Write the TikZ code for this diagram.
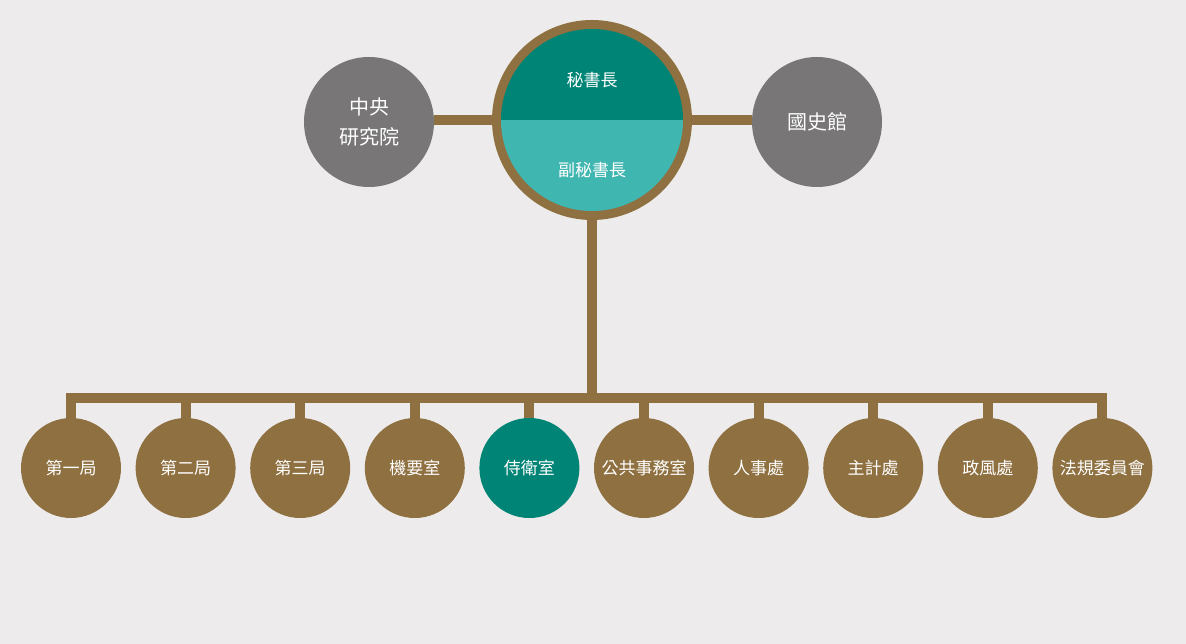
\documentclass[tikz,border=0pt]{standalone}
\usepackage{fontspec}
\setmainfont{Noto Sans CJK TC}
\usepackage{tikz}

\definecolor{bgcol}{RGB}{237,235,235}
\definecolor{bronze}{RGB}{143,112,64}
\definecolor{tealdark}{RGB}{0,132,118}
\definecolor{teallight}{RGB}{64,182,176}
\definecolor{stone}{RGB}{120,118,119}

\begin{document}
\begin{tikzpicture}[x=1pt,y=-1pt,
    link/.style={bronze, line width=10pt},
    side/.style={circle, fill=stone, minimum size=130pt, inner sep=0pt, text=white, align=center, font=\fontsize{20}{30}\selectfont},
    unit/.style={circle, fill=bronze, minimum size=100pt, inner sep=0pt, text=white, font=\fontsize{17}{20}\selectfont},
    title/.style={text=white, inner sep=0pt, font=\fontsize{17}{20}\selectfont}]

        % Background
        \fill[bgcol] (0,0) rectangle (1186,644);
        \useasboundingbox (0,0) rectangle (1186,644);

        % Central office with the bronze ring
        \node[circle, fill=bronze, minimum size=200pt, inner sep=0pt] (office) at (592,120) {};
        \begin{scope}
            \clip (592,120) circle (91pt);
            \fill[tealdark] (492,20) rectangle (692,120);
            \fill[teallight] (492,120) rectangle (692,220);
        \end{scope}
        \node[title] (secgen) at (592,80) {秘書長};
        \node[title] (deputy) at (592,170) {副秘書長};

        % Side bodies
        \node[side] (academia) at (369,122) {中央\\研究院};
        \node[side] (history) at (817,122) {國史館};

        % Units below
        \node[unit] (u1) at (71,468) {第一局};
        \node[unit] (u2) at (185.6,468) {第二局};
        \node[unit] (u3) at (300.2,468) {第三局};
        \node[unit] (u4) at (414.8,468) {機要室};
        \node[unit, fill=tealdark] (u5) at (529.4,468) {侍衛室};
        \node[unit] (u6) at (644,468) {公共事務室};
        \node[unit] (u7) at (758.6,468) {人事處};
        \node[unit] (u8) at (873.2,468) {主計處};
        \node[unit] (u9) at (987.8,468) {政風處};
        \node[unit] (u10) at (1102.4,468) {法規委員會};

        % Connectors
        \coordinate (hub) at (592,398);
        \draw[link] (academia.east |- office) -- (office.west);
        \draw[link] (office.east) -- (history.west |- office);
        \draw[link] (office.south) -- ([yshift=5pt]hub);
        \draw[link] ([xshift=-5pt]u1 |- hub) -- ([xshift=5pt]u10 |- hub);

        % Stubs down to the units
        \draw[link] (u1.north) -- (u1 |- hub);
        \draw[link] (u2.north) -- (u2 |- hub);
        \draw[link] (u3.north) -- (u3 |- hub);
        \draw[link] (u4.north) -- (u4 |- hub);
        \draw[link] (u5.north) -- (u5 |- hub);
        \draw[link] (u6.north) -- (u6 |- hub);
        \draw[link] (u7.north) -- (u7 |- hub);
        \draw[link] (u8.north) -- (u8 |- hub);
        \draw[link] (u9.north) -- (u9 |- hub);
        \draw[link] (u10.north) -- (u10 |- hub);

\end{tikzpicture}
\end{document}
